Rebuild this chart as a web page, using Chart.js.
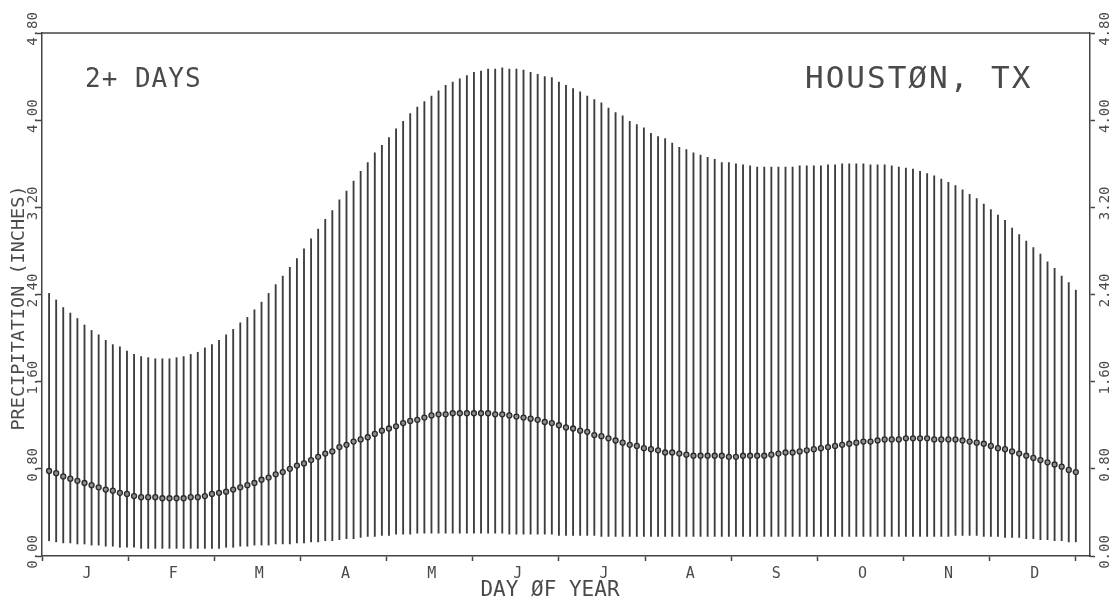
<!DOCTYPE html>
<html>
<head>
<meta charset="utf-8">
<title>Houston precipitation, 2+ days</title>
<script src="https://cdn.jsdelivr.net/npm/chart.js@4"></script>
<style>
  html, body { margin: 0; padding: 0; background: #fff; }
</style>
</head>
<body>
<canvas id="chart" width="1119" height="602"></canvas>
<script>
// upper end of each bar (inches)
const highs = [
  2.41, 2.35, 2.28, 2.23, 2.18, 2.12, 2.07, 2.03, 1.98, 1.94,
  1.92, 1.88, 1.85, 1.83, 1.82, 1.81, 1.81, 1.81, 1.82, 1.83,
  1.85, 1.87, 1.91, 1.94, 1.98, 2.03, 2.08, 2.14, 2.19, 2.26,
  2.33, 2.41, 2.49, 2.57, 2.65, 2.73, 2.82, 2.91, 3.00, 3.09,
  3.17, 3.27, 3.35, 3.44, 3.53, 3.61, 3.70, 3.77, 3.84, 3.92,
  3.99, 4.06, 4.12, 4.17, 4.22, 4.27, 4.32, 4.35, 4.38, 4.41,
  4.44, 4.45, 4.47, 4.47, 4.48, 4.47, 4.47, 4.46, 4.44, 4.42,
  4.40, 4.39, 4.35, 4.32, 4.29, 4.26, 4.22, 4.19, 4.16, 4.11,
  4.07, 4.04, 3.99, 3.96, 3.93, 3.88, 3.85, 3.83, 3.79, 3.75,
  3.73, 3.70, 3.68, 3.66, 3.64, 3.61, 3.61, 3.60, 3.59, 3.58,
  3.57, 3.57, 3.57, 3.57, 3.57, 3.57, 3.58, 3.58, 3.58, 3.58,
  3.59, 3.59, 3.60, 3.60, 3.60, 3.60, 3.59, 3.59, 3.59, 3.58,
  3.57, 3.56, 3.55, 3.53, 3.51, 3.49, 3.46, 3.43, 3.40, 3.36,
  3.32, 3.28, 3.23, 3.18, 3.13, 3.08, 3.01, 2.95, 2.89, 2.83,
  2.77, 2.70, 2.64, 2.57, 2.51, 2.44
];

// middle value, drawn as the circles
const means = [
  0.78, 0.76, 0.73, 0.71, 0.69, 0.67, 0.65, 0.63, 0.61, 0.60,
  0.58, 0.57, 0.55, 0.54, 0.54, 0.54, 0.53, 0.53, 0.53, 0.53,
  0.54, 0.54, 0.55, 0.57, 0.58, 0.59, 0.61, 0.63, 0.65, 0.67,
  0.70, 0.72, 0.75, 0.77, 0.80, 0.83, 0.85, 0.88, 0.91, 0.94,
  0.96, 1.00, 1.02, 1.05, 1.07, 1.09, 1.12, 1.15, 1.17, 1.19,
  1.22, 1.24, 1.25, 1.27, 1.29, 1.30, 1.30, 1.31, 1.31, 1.31,
  1.31, 1.31, 1.31, 1.30, 1.30, 1.29, 1.28, 1.27, 1.26, 1.25,
  1.23, 1.22, 1.20, 1.18, 1.17, 1.15, 1.14, 1.11, 1.10, 1.08,
  1.06, 1.04, 1.02, 1.01, 0.99, 0.98, 0.97, 0.95, 0.95, 0.94,
  0.93, 0.92, 0.92, 0.92, 0.92, 0.92, 0.91, 0.91, 0.92, 0.92,
  0.92, 0.92, 0.93, 0.94, 0.95, 0.95, 0.96, 0.97, 0.98, 0.99,
  1.00, 1.01, 1.02, 1.03, 1.04, 1.05, 1.05, 1.06, 1.07, 1.07,
  1.07, 1.08, 1.08, 1.08, 1.08, 1.07, 1.07, 1.07, 1.07, 1.06,
  1.05, 1.04, 1.03, 1.01, 0.99, 0.98, 0.96, 0.94, 0.92, 0.90,
  0.88, 0.86, 0.84, 0.82, 0.79, 0.77
];

// lower end of each bar
const lows = [
  0.14, 0.13, 0.12, 0.12, 0.11, 0.11, 0.10, 0.10, 0.09, 0.09,
  0.08, 0.08, 0.08, 0.07, 0.07, 0.07, 0.07, 0.07, 0.07, 0.07,
  0.07, 0.07, 0.07, 0.07, 0.07, 0.08, 0.08, 0.09, 0.09, 0.10,
  0.10, 0.10, 0.11, 0.11, 0.11, 0.12, 0.12, 0.13, 0.13, 0.14,
  0.14, 0.15, 0.16, 0.16, 0.17, 0.18, 0.18, 0.19, 0.19, 0.20,
  0.20, 0.20, 0.21, 0.21, 0.21, 0.21, 0.21, 0.21, 0.21, 0.21,
  0.21, 0.21, 0.21, 0.21, 0.21, 0.20, 0.20, 0.20, 0.20, 0.20,
  0.20, 0.20, 0.19, 0.19, 0.19, 0.19, 0.19, 0.19, 0.18, 0.18,
  0.18, 0.18, 0.18, 0.18, 0.18, 0.18, 0.18, 0.18, 0.18, 0.18,
  0.18, 0.18, 0.18, 0.18, 0.18, 0.18, 0.18, 0.18, 0.18, 0.18,
  0.18, 0.18, 0.18, 0.18, 0.18, 0.18, 0.18, 0.18, 0.18, 0.18,
  0.18, 0.18, 0.18, 0.18, 0.18, 0.18, 0.18, 0.18, 0.18, 0.18,
  0.18, 0.18, 0.18, 0.18, 0.18, 0.18, 0.18, 0.18, 0.19, 0.19,
  0.19, 0.19, 0.18, 0.18, 0.18, 0.17, 0.17, 0.17, 0.16, 0.16,
  0.15, 0.15, 0.14, 0.14, 0.13, 0.13
];

const months = ["J", "F", "M", "A", "M", "J", "J", "A", "S", "O", "N", "D"];
const yTicks = [0, 0.8, 1.6, 2.4, 3.2, 4.0, 4.8];

// one sample every 2.5 days through the year
const days = highs.map((_, i) => 2.5 * (i + 1));
const monthLen = 365 / 12;
const monthEdges = months.map((_, i) => i * monthLen).concat([365]);

const ink = "#444";
const mono = '"DejaVu Sans Mono", monospace';

function rotText(ctx, s, x, y) {
    ctx.save();
    ctx.translate(x, y);
    ctx.rotate(-Math.PI / 2);
    ctx.textAlign = "center";
    ctx.textBaseline = "alphabetic";
    ctx.fillText(s, 0, 0);
    ctx.restore();
}

const labels = {
    id: "labels",
    afterDraw(chart) {
        const { ctx, chartArea: a, scales } = chart;
        ctx.save();

        // top edge of the frame
        ctx.strokeStyle = ink;
        ctx.lineWidth = 1.5;
        ctx.beginPath();
        ctx.moveTo(a.left, a.top);
        ctx.lineTo(a.right, a.top);
        ctx.stroke();

        ctx.fillStyle = "#4a4a4a";

        // y values, turned on their side, on both axes
        ctx.font = "14px " + mono;
        yTicks.forEach(v => {
            const y = scales.y.getPixelForValue(v) - 4;
            rotText(ctx, v.toFixed(2), a.left - 5, y);
            rotText(ctx, v.toFixed(2), a.right + 19, y);
        });

        // month letters between the tick marks
        ctx.font = "15px " + mono;
        ctx.textAlign = "center";
        months.forEach((m, i) => {
            const x = scales.x.getPixelForValue((i + 0.5) * monthLen) + 2;
            ctx.fillText(m, x, 578);
        });

        ctx.font = "21px " + mono;
        ctx.fillText("DAY ØF YEAR", 550, 596);

        ctx.font = "18.5px " + mono;
        rotText(ctx, "PRECIPITATION (INCHES)", 24, 308);

        ctx.textAlign = "left";
        ctx.letterSpacing = "1px";
        ctx.font = "26px " + mono;
        ctx.fillText("2+ DAYS", 85, 87);
        ctx.letterSpacing = "2px";
        ctx.font = "31px " + mono;
        ctx.fillText("HOUSTØN, TX", 805, 88);

        ctx.restore();
    }
};

const yAxis = (pos) => ({
    type: "linear",
    position: pos,
    min: 0,
    max: 4.8,
    afterBuildTicks: s => { s.ticks = yTicks.map(v => ({ value: v })); },
    ticks: { display: false },
    grid: { drawOnChartArea: false, tickLength: 5, tickColor: ink, tickWidth: 1.5 },
    border: { color: ink, width: 1.5 }
});

new Chart(document.getElementById("chart"), {
    data: {
        datasets: [
            {
                type: "bar",
                data: days.map((d, i) => ({ x: d, y: [lows[i], highs[i]] })),
                backgroundColor: "#3d3d3d",
                borderWidth: 0,
                barThickness: 1.2,
                order: 2
            },
            {
                type: "line",
                data: days.map((d, i) => ({ x: d, y: means[i] })),
                showLine: false,
                pointStyle: "circle",
                pointRadius: 2.5,
                pointBorderWidth: 1.3,
                pointBorderColor: "#2a2a2a",
                pointBackgroundColor: "#8c8c8c",
                order: 1
            }
        ]
    },
    options: {
        responsive: false,
        animation: false,
        layout: { padding: { left: 37, right: 24, top: 33, bottom: 41 } },
        plugins: { legend: { display: false }, tooltip: { enabled: false } },
        scales: {
            x: {
                type: "linear",
                offset: false,
                min: 0,
                max: 370,
                afterBuildTicks: s => { s.ticks = monthEdges.map(v => ({ value: v })); },
                ticks: { display: false },
                grid: { offset: false, drawOnChartArea: false, tickLength: 5, tickColor: ink, tickWidth: 1.5 },
                border: { color: ink, width: 1.5 }
            },
            y: yAxis("left"),
            y2: yAxis("right")
        }
    },
    plugins: [labels]
});
</script>
</body>
</html>
